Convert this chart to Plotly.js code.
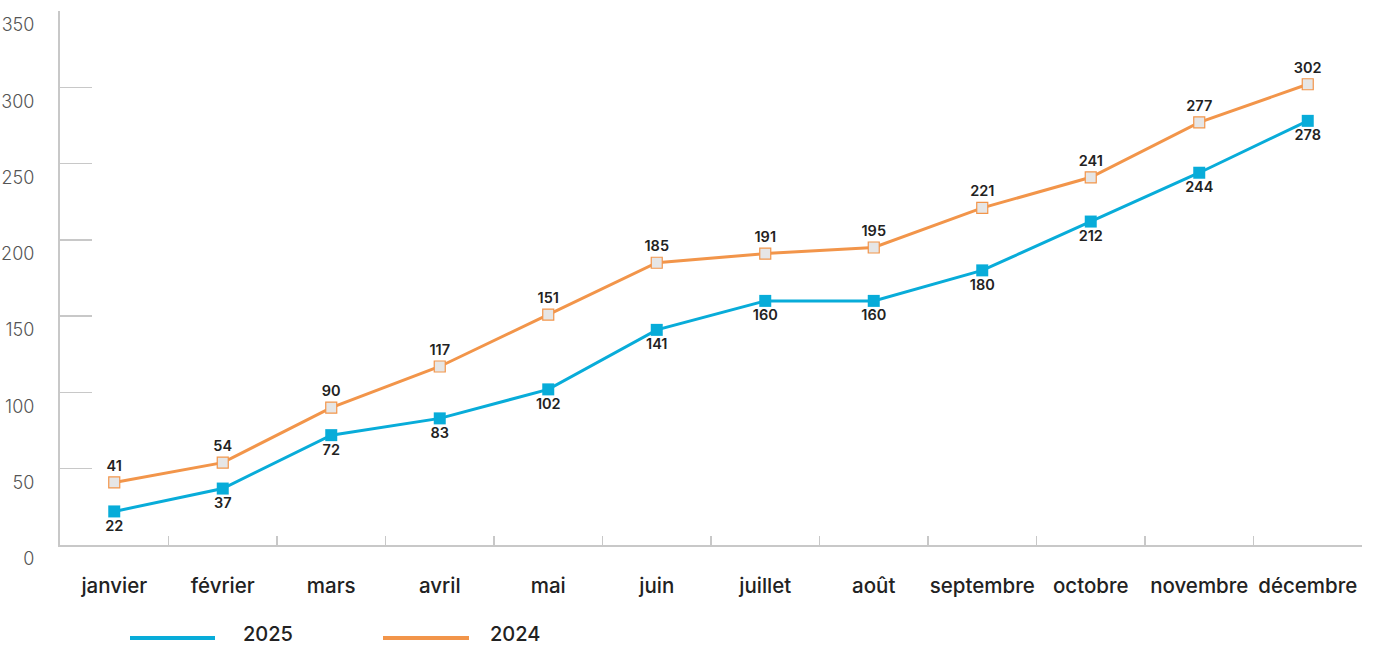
<!DOCTYPE html>
<html>
<head>
<meta charset="utf-8">
<script src="https://cdn.plot.ly/plotly-3.0.1.min.js"></script>
<style>
  html, body { margin: 0; padding: 0; background: #fff; }
  #chart { width: 1377px; height: 648px; }
</style>
</head>
<body>
<div id="chart"></div>
<script>
var months = ["janvier", "février", "mars", "avril", "mai", "juin",
              "juillet", "août", "septembre", "octobre", "novembre", "décembre"];
var seriesNames = ["2025", "2024"];
var values2025 = [22, 37, 72, 83, 102, 141, 160, 160, 180, 212, 244, 278];
var values2024 = [41, 54, 90, 117, 151, 185, 191, 195, 221, 241, 277, 302];
var yTicks = [0, 50, 100, 150, 200, 250, 300, 350];

var blue = "#08acd9";
var orange = "#f2954a";
var font = "Inter, 'Open Sans', sans-serif";

var trace2025 = {
  x: months,
  y: values2025,
  name: seriesNames[0],
  type: "scatter",
  mode: "lines+markers+text",
  line: { color: blue, width: 3 },
  marker: { symbol: "square", size: 12, color: blue },
  text: values2025.map(String),
  textposition: "bottom center",
  textfont: { family: font, size: 14.5, color: "#222", weight: 600 },
  cliponaxis: false,
  hoverinfo: "x+y"
};

var trace2024 = {
  x: months,
  y: values2024,
  name: seriesNames[1],
  type: "scatter",
  mode: "lines+markers+text",
  line: { color: orange, width: 3 },
  marker: { symbol: "square", size: 11, color: "#e6e6e6", line: { color: orange, width: 1.2 } },
  text: values2024.map(String),
  textposition: "top center",
  textfont: { family: font, size: 14.5, color: "#222", weight: 600 },
  cliponaxis: false,
  hoverinfo: "x+y"
};

// legend drawn below the plot
var w = 1302, h = 534;
function legendItem(x0, x1, xt, color, label) {
  return {
    shape: { type: "line", xref: "paper", yref: "paper", x0: x0, x1: x1,
             y0: (545 - 638) / h, y1: (545 - 638) / h,
             line: { color: color, width: 4 } },
    ann: { xref: "paper", yref: "paper", x: xt, y: (545 - 647) / h, xanchor: "left", yanchor: "bottom",
           borderpad: 0, text: label, showarrow: false,
           font: { family: font, size: 20, color: "#222", weight: 500 } }
  };
}
var l1 = legendItem((130 - 60) / w, (215 - 60) / w, (242 - 60) / w, blue, seriesNames[0]);
var l2 = legendItem((383 - 60) / w, (469 - 60) / w, (489 - 60) / w, orange, seriesNames[1]);

var layout = {
  width: 1377,
  height: 648,
  margin: { l: 60, r: 15, t: 11, b: 103 },
  paper_bgcolor: "#fff",
  plot_bgcolor: "#fff",
  showlegend: false,
  font: { family: font, color: "#222" },
  xaxis: {
    type: "category",
    range: [-0.5, 11.5],
    showline: true,
    linecolor: "#c8c8c8",
    linewidth: 2,
    showgrid: false,
    zeroline: false,
    ticks: "inside",
    tickson: "boundaries",
    ticklen: 9,
    tickwidth: 1.5,
    tickcolor: "#c8c8c8",
    tickangle: 0,
    ticklabelstandoff: 21,
    tickfont: { family: font, size: 20.5, color: "#222", weight: 500 }
  },
  yaxis: {
    range: [0, 350],
    tickvals: yTicks,
    showline: true,
    linecolor: "#c8c8c8",
    linewidth: 2,
    showgrid: false,
    zeroline: false,
    ticks: "inside",
    ticklen: 32,
    tickwidth: 1.5,
    tickcolor: "#c8c8c8",
    ticklabelstandoff: 20,
    ticklabelshift: 14,
    tickfont: { family: font, size: 18, color: "#555", weight: 300 }
  },
  shapes: [l1.shape, l2.shape],
  annotations: [l1.ann, l2.ann]
};

Plotly.newPlot("chart", [trace2025, trace2024], layout, { displayModeBar: false, staticPlot: true });
</script>
</body>
</html>
